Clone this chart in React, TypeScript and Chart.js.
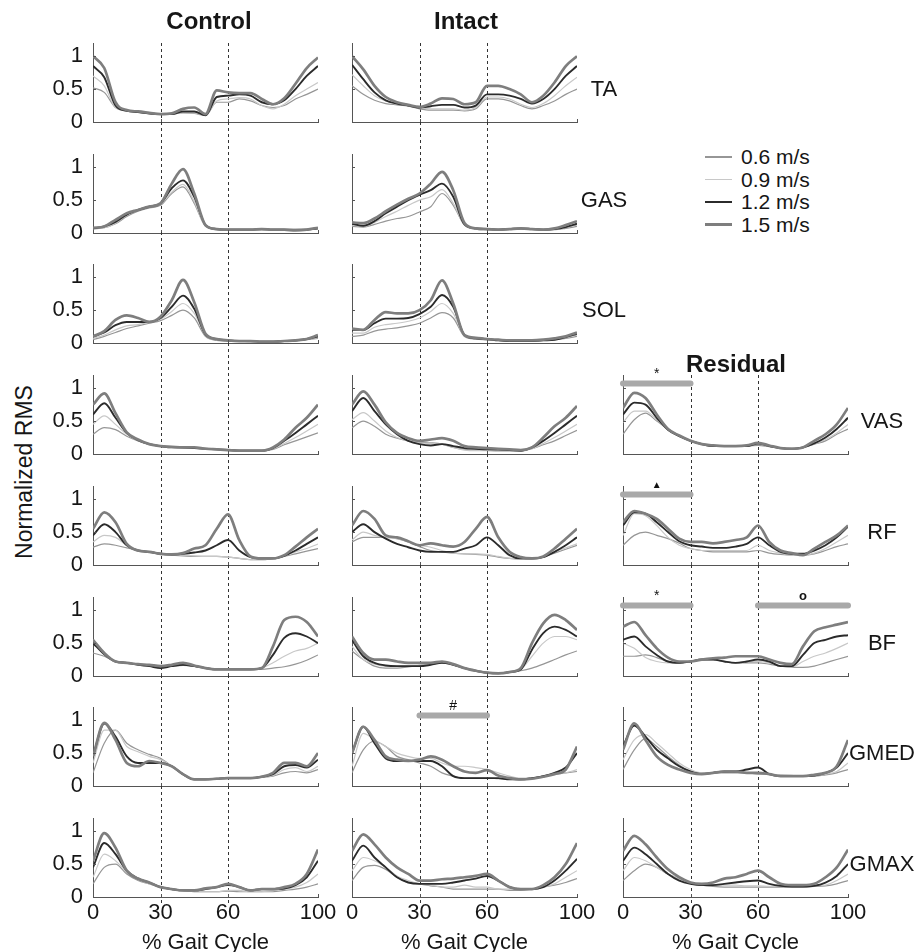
import React, { useEffect, useRef } from "react";
import { Chart, registerables } from "chart.js";
Chart.register(...registerables);

const FONT = '"Liberation Sans", Arial, Helvetica, sans-serif';
const TEXT = "#161616";
const AXIS = "#555555";

// ---------- data ----------
const gaitPct = [0, 5, 10, 15, 20, 25, 30, 35, 40, 45, 50, 55, 60, 65, 70, 75, 80, 85, 90, 95, 100];
const xTicks = [0, 30, 60, 100];
const yTicks = [0, 0.5, 1];
const phaseLines = [30, 60];
const speedLabels = ["0.6 m/s", "0.9 m/s", "1.2 m/s", "1.5 m/s"];
const speedColors = ["#969696", "#c8c8c8", "#2b2b2b", "#7e7e7e"];
const speedWidths = [1.2, 1.2, 1.9, 2.7];
const groups = ["Control", "Intact", "Residual"];
const muscles = ["TA", "GAS", "SOL", "VAS", "RF", "BF", "GMED", "GMAX"];

// TA
const ta_control_06 = [0.52, 0.45, 0.22, 0.17, 0.15, 0.13, 0.12, 0.12, 0.14, 0.13, 0.1, 0.3, 0.3, 0.35, 0.32, 0.25, 0.22, 0.25, 0.35, 0.42, 0.5];
const ta_control_09 = [0.7, 0.55, 0.22, 0.17, 0.15, 0.13, 0.12, 0.12, 0.14, 0.14, 0.1, 0.32, 0.35, 0.37, 0.35, 0.25, 0.2, 0.27, 0.4, 0.5, 0.6];
const ta_control_12 = [0.85, 0.68, 0.25, 0.17, 0.15, 0.13, 0.12, 0.12, 0.16, 0.16, 0.1, 0.38, 0.4, 0.42, 0.4, 0.3, 0.27, 0.33, 0.5, 0.7, 0.85];
const ta_control_15 = [1.0, 0.82, 0.3, 0.18, 0.16, 0.14, 0.12, 0.13, 0.2, 0.22, 0.12, 0.48, 0.45, 0.44, 0.44, 0.35, 0.27, 0.36, 0.58, 0.82, 0.98];
const ta_intact_06 = [0.55, 0.42, 0.33, 0.28, 0.26, 0.24, 0.2, 0.18, 0.18, 0.18, 0.17, 0.2, 0.35, 0.35, 0.32, 0.25, 0.2, 0.25, 0.32, 0.42, 0.5];
const ta_intact_09 = [0.72, 0.55, 0.4, 0.32, 0.28, 0.25, 0.22, 0.2, 0.2, 0.2, 0.18, 0.22, 0.38, 0.38, 0.35, 0.27, 0.22, 0.28, 0.4, 0.55, 0.68];
const ta_intact_12 = [0.87, 0.65, 0.45, 0.33, 0.28, 0.25, 0.22, 0.24, 0.26, 0.26, 0.22, 0.25, 0.42, 0.42, 0.4, 0.35, 0.28, 0.35, 0.5, 0.7, 0.85];
const ta_intact_15 = [1.0, 0.8, 0.55, 0.38, 0.3, 0.26, 0.23, 0.28, 0.36, 0.35, 0.27, 0.3, 0.55, 0.55, 0.5, 0.42, 0.3, 0.4, 0.6, 0.85, 1.0];

// GAS
const gas_control_06 = [0.06, 0.08, 0.14, 0.25, 0.33, 0.38, 0.42, 0.6, 0.7, 0.45, 0.1, 0.05, 0.04, 0.05, 0.05, 0.05, 0.05, 0.05, 0.04, 0.05, 0.06];
const gas_control_09 = [0.07, 0.08, 0.15, 0.27, 0.35, 0.4, 0.44, 0.62, 0.74, 0.48, 0.1, 0.05, 0.05, 0.05, 0.05, 0.06, 0.05, 0.05, 0.04, 0.05, 0.06];
const gas_control_12 = [0.07, 0.1, 0.17, 0.28, 0.35, 0.4, 0.45, 0.68, 0.8, 0.55, 0.12, 0.06, 0.05, 0.05, 0.05, 0.06, 0.05, 0.05, 0.05, 0.05, 0.07];
const gas_control_15 = [0.08, 0.1, 0.2, 0.3, 0.35, 0.4, 0.45, 0.75, 0.97, 0.6, 0.12, 0.06, 0.05, 0.05, 0.05, 0.06, 0.05, 0.05, 0.04, 0.05, 0.08];
const gas_intact_06 = [0.1, 0.09, 0.13, 0.18, 0.22, 0.25, 0.32, 0.4, 0.6, 0.42, 0.12, 0.06, 0.05, 0.05, 0.06, 0.06, 0.06, 0.05, 0.05, 0.07, 0.1];
const gas_intact_09 = [0.12, 0.1, 0.16, 0.25, 0.33, 0.42, 0.5, 0.55, 0.66, 0.45, 0.12, 0.06, 0.05, 0.05, 0.06, 0.06, 0.06, 0.05, 0.05, 0.08, 0.12];
const gas_intact_12 = [0.14, 0.11, 0.18, 0.3, 0.4, 0.5, 0.58, 0.65, 0.75, 0.55, 0.13, 0.07, 0.06, 0.05, 0.06, 0.07, 0.06, 0.05, 0.06, 0.09, 0.14];
const gas_intact_15 = [0.16, 0.15, 0.22, 0.33, 0.43, 0.52, 0.6, 0.75, 0.93, 0.65, 0.15, 0.07, 0.06, 0.05, 0.06, 0.07, 0.06, 0.05, 0.07, 0.12, 0.18];

// SOL
const sol_control_06 = [0.05, 0.1, 0.16, 0.22, 0.26, 0.3, 0.34, 0.42, 0.5, 0.38, 0.1, 0.04, 0.03, 0.03, 0.02, 0.02, 0.02, 0.03, 0.03, 0.05, 0.07];
const sol_control_09 = [0.07, 0.12, 0.2, 0.26, 0.28, 0.32, 0.36, 0.48, 0.6, 0.45, 0.12, 0.05, 0.04, 0.03, 0.03, 0.02, 0.02, 0.03, 0.04, 0.06, 0.08];
const sol_control_12 = [0.1, 0.16, 0.27, 0.32, 0.32, 0.32, 0.38, 0.55, 0.72, 0.52, 0.13, 0.06, 0.04, 0.03, 0.03, 0.02, 0.02, 0.03, 0.04, 0.06, 0.1];
const sol_control_15 = [0.1, 0.18, 0.35, 0.42, 0.38, 0.32, 0.4, 0.65, 0.96, 0.62, 0.14, 0.06, 0.04, 0.03, 0.03, 0.02, 0.02, 0.03, 0.04, 0.06, 0.12];
const sol_intact_06 = [0.1, 0.12, 0.18, 0.21, 0.23, 0.26, 0.3, 0.38, 0.46, 0.38, 0.1, 0.06, 0.05, 0.04, 0.03, 0.03, 0.03, 0.04, 0.05, 0.07, 0.1];
const sol_intact_09 = [0.15, 0.15, 0.24, 0.28, 0.3, 0.33, 0.38, 0.48, 0.6, 0.45, 0.11, 0.07, 0.06, 0.04, 0.03, 0.03, 0.03, 0.04, 0.05, 0.08, 0.12];
const sol_intact_12 = [0.2, 0.2, 0.3, 0.37, 0.37, 0.38, 0.44, 0.55, 0.73, 0.55, 0.12, 0.07, 0.06, 0.04, 0.03, 0.03, 0.03, 0.04, 0.05, 0.09, 0.14];
const sol_intact_15 = [0.22, 0.2, 0.35, 0.47, 0.45, 0.45, 0.5, 0.65, 0.95, 0.6, 0.12, 0.08, 0.06, 0.05, 0.04, 0.04, 0.04, 0.05, 0.07, 0.1, 0.16];

// VAS
const vas_control_06 = [0.3, 0.4, 0.37, 0.27, 0.2, 0.15, 0.12, 0.1, 0.09, 0.09, 0.08, 0.07, 0.06, 0.05, 0.05, 0.05, 0.07, 0.14, 0.2, 0.26, 0.32];
const vas_control_09 = [0.45, 0.58, 0.45, 0.3, 0.2, 0.15, 0.12, 0.1, 0.09, 0.09, 0.08, 0.07, 0.06, 0.05, 0.05, 0.05, 0.08, 0.16, 0.25, 0.35, 0.45];
const vas_control_12 = [0.6, 0.77, 0.55, 0.32, 0.21, 0.15, 0.12, 0.1, 0.1, 0.09, 0.08, 0.07, 0.06, 0.05, 0.05, 0.05, 0.09, 0.2, 0.32, 0.45, 0.58];
const vas_control_15 = [0.75, 0.92, 0.62, 0.33, 0.22, 0.15, 0.12, 0.11, 0.1, 0.1, 0.08, 0.07, 0.06, 0.05, 0.05, 0.05, 0.1, 0.22, 0.4, 0.55, 0.75];
const vas_intact_06 = [0.4, 0.5, 0.42, 0.3, 0.24, 0.2, 0.18, 0.17, 0.15, 0.1, 0.07, 0.06, 0.06, 0.05, 0.05, 0.05, 0.08, 0.14, 0.2, 0.28, 0.36];
const vas_intact_09 = [0.52, 0.63, 0.5, 0.35, 0.25, 0.2, 0.17, 0.16, 0.15, 0.1, 0.06, 0.05, 0.05, 0.04, 0.04, 0.05, 0.08, 0.16, 0.25, 0.35, 0.45];
const vas_intact_12 = [0.65, 0.85, 0.65, 0.45, 0.3, 0.2, 0.15, 0.13, 0.15, 0.12, 0.09, 0.08, 0.07, 0.07, 0.06, 0.05, 0.1, 0.2, 0.32, 0.45, 0.58];
const vas_intact_15 = [0.75, 0.95, 0.75, 0.48, 0.32, 0.24, 0.2, 0.22, 0.24, 0.2, 0.12, 0.1, 0.09, 0.08, 0.07, 0.06, 0.1, 0.25, 0.42, 0.55, 0.73];
const vas_residual_06 = [0.3, 0.52, 0.62, 0.5, 0.38, 0.28, 0.2, 0.16, 0.13, 0.12, 0.12, 0.12, 0.13, 0.11, 0.09, 0.08, 0.1, 0.15, 0.2, 0.3, 0.38];
const vas_residual_09 = [0.48, 0.65, 0.65, 0.52, 0.36, 0.27, 0.2, 0.15, 0.13, 0.12, 0.12, 0.13, 0.15, 0.12, 0.09, 0.08, 0.1, 0.15, 0.22, 0.32, 0.45];
const vas_residual_12 = [0.6, 0.78, 0.75, 0.55, 0.37, 0.27, 0.2, 0.15, 0.12, 0.12, 0.12, 0.12, 0.16, 0.12, 0.09, 0.08, 0.1, 0.16, 0.25, 0.38, 0.55];
const vas_residual_15 = [0.7, 0.93, 0.85, 0.6, 0.38, 0.28, 0.2, 0.15, 0.13, 0.12, 0.12, 0.13, 0.17, 0.13, 0.09, 0.08, 0.1, 0.2, 0.3, 0.45, 0.7];

// RF
const rf_control_06 = [0.27, 0.32, 0.3, 0.26, 0.22, 0.19, 0.17, 0.15, 0.14, 0.13, 0.13, 0.13, 0.12, 0.1, 0.08, 0.08, 0.1, 0.13, 0.17, 0.21, 0.25];
const rf_control_09 = [0.35, 0.45, 0.42, 0.3, 0.22, 0.2, 0.18, 0.16, 0.15, 0.14, 0.13, 0.13, 0.12, 0.1, 0.08, 0.08, 0.1, 0.14, 0.2, 0.25, 0.32];
const rf_control_12 = [0.45, 0.62, 0.5, 0.3, 0.22, 0.2, 0.17, 0.16, 0.17, 0.19, 0.22, 0.3, 0.38, 0.22, 0.12, 0.1, 0.1, 0.14, 0.22, 0.32, 0.42];
const rf_control_15 = [0.55, 0.8, 0.65, 0.32, 0.22, 0.2, 0.17, 0.16, 0.18, 0.25, 0.3, 0.55, 0.77, 0.38, 0.13, 0.1, 0.1, 0.15, 0.28, 0.42, 0.55];
const rf_intact_06 = [0.35, 0.42, 0.42, 0.42, 0.4, 0.35, 0.28, 0.22, 0.2, 0.18, 0.17, 0.16, 0.15, 0.12, 0.1, 0.09, 0.09, 0.12, 0.18, 0.24, 0.3];
const rf_intact_09 = [0.38, 0.5, 0.45, 0.42, 0.4, 0.35, 0.3, 0.27, 0.22, 0.18, 0.17, 0.17, 0.16, 0.13, 0.1, 0.09, 0.09, 0.12, 0.2, 0.26, 0.32];
const rf_intact_12 = [0.5, 0.62, 0.5, 0.4, 0.32, 0.27, 0.22, 0.2, 0.2, 0.2, 0.25, 0.3, 0.42, 0.3, 0.15, 0.1, 0.1, 0.12, 0.2, 0.3, 0.42];
const rf_intact_15 = [0.6, 0.82, 0.7, 0.45, 0.42, 0.36, 0.3, 0.33, 0.3, 0.28, 0.35, 0.55, 0.73, 0.42, 0.2, 0.12, 0.1, 0.13, 0.25, 0.4, 0.55];
const rf_residual_06 = [0.3, 0.45, 0.5, 0.45, 0.4, 0.33, 0.25, 0.22, 0.2, 0.2, 0.2, 0.2, 0.22, 0.18, 0.16, 0.15, 0.15, 0.17, 0.22, 0.28, 0.32];
const rf_residual_09 = [0.45, 0.78, 0.75, 0.6, 0.42, 0.3, 0.25, 0.22, 0.22, 0.22, 0.22, 0.22, 0.3, 0.22, 0.18, 0.15, 0.15, 0.18, 0.25, 0.35, 0.45];
const rf_residual_12 = [0.6, 0.8, 0.78, 0.65, 0.5, 0.36, 0.3, 0.28, 0.26, 0.26, 0.28, 0.32, 0.42, 0.3, 0.2, 0.17, 0.17, 0.22, 0.3, 0.42, 0.58];
const rf_residual_15 = [0.65, 0.82, 0.78, 0.7, 0.55, 0.4, 0.35, 0.35, 0.33, 0.35, 0.38, 0.42, 0.6, 0.35, 0.22, 0.18, 0.15, 0.25, 0.35, 0.45, 0.6];

// BF
const bf_control_06 = [0.35, 0.3, 0.22, 0.2, 0.18, 0.16, 0.14, 0.15, 0.16, 0.15, 0.12, 0.1, 0.1, 0.1, 0.1, 0.1, 0.12, 0.14, 0.18, 0.24, 0.32];
const bf_control_09 = [0.55, 0.35, 0.22, 0.2, 0.18, 0.17, 0.15, 0.15, 0.18, 0.15, 0.12, 0.1, 0.1, 0.1, 0.1, 0.12, 0.2, 0.3, 0.38, 0.42, 0.5];
const bf_control_12 = [0.5, 0.33, 0.22, 0.2, 0.17, 0.15, 0.12, 0.15, 0.17, 0.15, 0.12, 0.1, 0.1, 0.1, 0.1, 0.12, 0.32, 0.58, 0.65, 0.6, 0.5];
const bf_control_15 = [0.55, 0.35, 0.22, 0.2, 0.18, 0.17, 0.15, 0.17, 0.2, 0.16, 0.12, 0.1, 0.1, 0.1, 0.1, 0.12, 0.45, 0.85, 0.9, 0.82, 0.6];
const bf_intact_06 = [0.38, 0.25, 0.15, 0.12, 0.12, 0.14, 0.16, 0.18, 0.2, 0.17, 0.12, 0.08, 0.05, 0.04, 0.06, 0.08, 0.12, 0.18, 0.25, 0.32, 0.38];
const bf_intact_09 = [0.45, 0.25, 0.18, 0.15, 0.15, 0.15, 0.16, 0.18, 0.2, 0.17, 0.12, 0.08, 0.05, 0.04, 0.06, 0.1, 0.3, 0.5, 0.6, 0.6, 0.55];
const bf_intact_12 = [0.55, 0.3, 0.2, 0.16, 0.15, 0.15, 0.15, 0.17, 0.2, 0.17, 0.12, 0.08, 0.05, 0.04, 0.06, 0.1, 0.4, 0.65, 0.75, 0.7, 0.6];
const bf_intact_15 = [0.6, 0.35, 0.25, 0.25, 0.22, 0.2, 0.2, 0.2, 0.22, 0.18, 0.12, 0.08, 0.05, 0.04, 0.06, 0.12, 0.5, 0.8, 0.93, 0.85, 0.7];
const bf_residual_06 = [0.3, 0.3, 0.32, 0.28, 0.22, 0.2, 0.22, 0.25, 0.25, 0.22, 0.2, 0.2, 0.2, 0.18, 0.15, 0.13, 0.13, 0.15, 0.2, 0.25, 0.3];
const bf_residual_09 = [0.5, 0.42, 0.28, 0.22, 0.2, 0.2, 0.22, 0.25, 0.25, 0.22, 0.2, 0.22, 0.22, 0.2, 0.15, 0.14, 0.22, 0.3, 0.35, 0.42, 0.5];
const bf_residual_12 = [0.55, 0.6, 0.45, 0.32, 0.22, 0.2, 0.22, 0.25, 0.25, 0.22, 0.2, 0.22, 0.25, 0.22, 0.15, 0.15, 0.32, 0.5, 0.55, 0.6, 0.62];
const bf_residual_15 = [0.75, 0.82, 0.62, 0.42, 0.28, 0.22, 0.22, 0.25, 0.27, 0.28, 0.3, 0.3, 0.3, 0.25, 0.2, 0.18, 0.45, 0.68, 0.74, 0.78, 0.82];

// GMED
const gmed_control_06 = [0.2, 0.65, 0.85, 0.65, 0.55, 0.48, 0.42, 0.3, 0.17, 0.1, 0.1, 0.11, 0.12, 0.12, 0.12, 0.13, 0.15, 0.2, 0.22, 0.2, 0.25];
const gmed_control_09 = [0.35, 0.85, 0.85, 0.6, 0.52, 0.45, 0.4, 0.3, 0.17, 0.1, 0.1, 0.11, 0.12, 0.12, 0.12, 0.13, 0.16, 0.25, 0.28, 0.22, 0.3];
const gmed_control_12 = [0.45, 0.95, 0.75, 0.45, 0.35, 0.35, 0.35, 0.3, 0.18, 0.1, 0.1, 0.11, 0.12, 0.12, 0.12, 0.14, 0.18, 0.3, 0.32, 0.28, 0.4];
const gmed_control_15 = [0.45, 0.96, 0.7, 0.35, 0.3, 0.38, 0.35, 0.3, 0.18, 0.1, 0.1, 0.11, 0.12, 0.12, 0.12, 0.14, 0.2, 0.35, 0.35, 0.3, 0.5];
const gmed_intact_06 = [0.2, 0.55, 0.68, 0.6, 0.45, 0.4, 0.35, 0.3, 0.2, 0.15, 0.12, 0.12, 0.12, 0.11, 0.1, 0.1, 0.12, 0.15, 0.18, 0.2, 0.22];
const gmed_intact_09 = [0.3, 0.8, 0.7, 0.6, 0.5, 0.45, 0.42, 0.42, 0.35, 0.3, 0.3, 0.28, 0.25, 0.2, 0.15, 0.12, 0.12, 0.15, 0.18, 0.2, 0.25];
const gmed_intact_12 = [0.5, 0.9, 0.65, 0.42, 0.38, 0.38, 0.38, 0.38, 0.3, 0.15, 0.12, 0.12, 0.12, 0.12, 0.1, 0.1, 0.12, 0.15, 0.2, 0.28, 0.5];
const gmed_intact_15 = [0.5, 0.9, 0.7, 0.45, 0.4, 0.38, 0.4, 0.45, 0.4, 0.3, 0.22, 0.2, 0.24, 0.16, 0.12, 0.1, 0.11, 0.14, 0.18, 0.25, 0.6];
const gmed_residual_06 = [0.25, 0.55, 0.72, 0.6, 0.45, 0.32, 0.22, 0.2, 0.2, 0.2, 0.2, 0.2, 0.18, 0.18, 0.16, 0.15, 0.15, 0.15, 0.17, 0.2, 0.25];
const gmed_residual_09 = [0.4, 0.7, 0.78, 0.65, 0.5, 0.35, 0.25, 0.2, 0.2, 0.22, 0.2, 0.2, 0.2, 0.18, 0.17, 0.16, 0.15, 0.16, 0.18, 0.22, 0.35];
const gmed_residual_12 = [0.6, 0.92, 0.75, 0.55, 0.42, 0.3, 0.22, 0.18, 0.2, 0.22, 0.22, 0.25, 0.28, 0.18, 0.15, 0.15, 0.15, 0.16, 0.2, 0.28, 0.5];
const gmed_residual_15 = [0.55, 0.95, 0.7, 0.45, 0.32, 0.25, 0.2, 0.18, 0.2, 0.22, 0.22, 0.2, 0.2, 0.18, 0.15, 0.15, 0.15, 0.17, 0.2, 0.3, 0.7];

// GMAX
const gmax_control_06 = [0.2, 0.45, 0.5, 0.35, 0.25, 0.2, 0.15, 0.12, 0.1, 0.08, 0.08, 0.08, 0.09, 0.08, 0.08, 0.08, 0.08, 0.1, 0.12, 0.15, 0.2];
const gmax_control_09 = [0.3, 0.65, 0.55, 0.38, 0.27, 0.2, 0.15, 0.12, 0.1, 0.08, 0.08, 0.08, 0.1, 0.1, 0.08, 0.08, 0.1, 0.12, 0.15, 0.22, 0.35];
const gmax_control_12 = [0.45, 0.82, 0.65, 0.4, 0.28, 0.22, 0.15, 0.12, 0.1, 0.1, 0.12, 0.15, 0.18, 0.15, 0.1, 0.12, 0.12, 0.13, 0.18, 0.3, 0.55];
const gmax_control_15 = [0.55, 0.97, 0.75, 0.4, 0.28, 0.22, 0.15, 0.12, 0.1, 0.1, 0.13, 0.15, 0.2, 0.15, 0.1, 0.12, 0.12, 0.15, 0.2, 0.35, 0.72];
const gmax_intact_06 = [0.25, 0.45, 0.48, 0.42, 0.3, 0.22, 0.2, 0.17, 0.15, 0.12, 0.12, 0.12, 0.12, 0.12, 0.1, 0.1, 0.12, 0.15, 0.18, 0.22, 0.28];
const gmax_intact_09 = [0.4, 0.6, 0.55, 0.45, 0.32, 0.25, 0.2, 0.18, 0.15, 0.15, 0.18, 0.15, 0.15, 0.12, 0.12, 0.12, 0.12, 0.15, 0.2, 0.3, 0.4];
const gmax_intact_12 = [0.55, 0.78, 0.6, 0.45, 0.3, 0.22, 0.2, 0.2, 0.2, 0.22, 0.25, 0.28, 0.32, 0.25, 0.15, 0.12, 0.12, 0.15, 0.25, 0.4, 0.58];
const gmax_intact_15 = [0.7, 0.95, 0.8, 0.6, 0.45, 0.35, 0.25, 0.25, 0.27, 0.28, 0.3, 0.32, 0.35, 0.25, 0.15, 0.12, 0.12, 0.18, 0.3, 0.5, 0.82];
const gmax_residual_06 = [0.25, 0.4, 0.5, 0.45, 0.35, 0.28, 0.22, 0.18, 0.16, 0.15, 0.15, 0.15, 0.15, 0.15, 0.15, 0.15, 0.15, 0.16, 0.17, 0.2, 0.25];
const gmax_residual_09 = [0.4, 0.6, 0.55, 0.45, 0.35, 0.28, 0.22, 0.18, 0.18, 0.18, 0.18, 0.17, 0.17, 0.16, 0.16, 0.16, 0.16, 0.17, 0.18, 0.25, 0.35];
const gmax_residual_12 = [0.55, 0.75, 0.65, 0.5, 0.35, 0.25, 0.2, 0.18, 0.18, 0.2, 0.22, 0.24, 0.25, 0.2, 0.17, 0.16, 0.16, 0.17, 0.22, 0.32, 0.5];
const gmax_residual_15 = [0.7, 0.93, 0.8, 0.6, 0.42, 0.3, 0.22, 0.2, 0.22, 0.28, 0.3, 0.35, 0.4, 0.3, 0.2, 0.18, 0.18, 0.2, 0.3, 0.45, 0.72];

// significance bars: [from %, to %, mark]
const vasResidualSig = [{ from: 0, to: 30, mark: "*" }];
const rfResidualSig = [{ from: 0, to: 30, mark: "▲" }];
const bfResidualSig = [{ from: 0, to: 30, mark: "*" }, { from: 60, to: 100, mark: "o" }];
const gmedIntactSig = [{ from: 30, to: 60, mark: "#" }];
const SIG_Y = 1.07;
const SIG_MARK_Y = 1.21;

type Sig = { from: number; to: number; mark: string };
type PanelSpec = { row: number; col: number; series: number[][]; sig?: Sig[] };

const panels: PanelSpec[] = [
  { row: 0, col: 0, series: [ta_control_06, ta_control_09, ta_control_12, ta_control_15] },
  { row: 0, col: 1, series: [ta_intact_06, ta_intact_09, ta_intact_12, ta_intact_15] },
  { row: 1, col: 0, series: [gas_control_06, gas_control_09, gas_control_12, gas_control_15] },
  { row: 1, col: 1, series: [gas_intact_06, gas_intact_09, gas_intact_12, gas_intact_15] },
  { row: 2, col: 0, series: [sol_control_06, sol_control_09, sol_control_12, sol_control_15] },
  { row: 2, col: 1, series: [sol_intact_06, sol_intact_09, sol_intact_12, sol_intact_15] },
  { row: 3, col: 0, series: [vas_control_06, vas_control_09, vas_control_12, vas_control_15] },
  { row: 3, col: 1, series: [vas_intact_06, vas_intact_09, vas_intact_12, vas_intact_15] },
  { row: 3, col: 2, series: [vas_residual_06, vas_residual_09, vas_residual_12, vas_residual_15], sig: vasResidualSig },
  { row: 4, col: 0, series: [rf_control_06, rf_control_09, rf_control_12, rf_control_15] },
  { row: 4, col: 1, series: [rf_intact_06, rf_intact_09, rf_intact_12, rf_intact_15] },
  { row: 4, col: 2, series: [rf_residual_06, rf_residual_09, rf_residual_12, rf_residual_15], sig: rfResidualSig },
  { row: 5, col: 0, series: [bf_control_06, bf_control_09, bf_control_12, bf_control_15] },
  { row: 5, col: 1, series: [bf_intact_06, bf_intact_09, bf_intact_12, bf_intact_15] },
  { row: 5, col: 2, series: [bf_residual_06, bf_residual_09, bf_residual_12, bf_residual_15], sig: bfResidualSig },
  { row: 6, col: 0, series: [gmed_control_06, gmed_control_09, gmed_control_12, gmed_control_15] },
  { row: 6, col: 1, series: [gmed_intact_06, gmed_intact_09, gmed_intact_12, gmed_intact_15], sig: gmedIntactSig },
  { row: 6, col: 2, series: [gmed_residual_06, gmed_residual_09, gmed_residual_12, gmed_residual_15] },
  { row: 7, col: 0, series: [gmax_control_06, gmax_control_09, gmax_control_12, gmax_control_15] },
  { row: 7, col: 1, series: [gmax_intact_06, gmax_intact_09, gmax_intact_12, gmax_intact_15] },
  { row: 7, col: 2, series: [gmax_residual_06, gmax_residual_09, gmax_residual_12, gmax_residual_15] },
];

// ---------- layout ----------
const PLOT_LEFT = [93, 352, 623];
const PLOT_W = 225;
const BASELINE = [122, 233, 343, 454, 565, 676, 786, 897];
const PLOT_H = 79;
const TOP_PAD = 32;
const YW = 50;
const RP = 26;
const LABEL_X = [604, 604, 882];
const FIRST_ROW = [0, 0, 3];

function Panel({ spec }: { spec: PanelSpec }) {
  const ref = useRef<HTMLCanvasElement>(null);
  const isBottom = spec.row === 7;
  const XH = isBottom ? 60 : 16;
  const W = YW + PLOT_W + RP;
  const H = TOP_PAD + PLOT_H + XH;
  const left = PLOT_LEFT[spec.col] - YW;
  const top = BASELINE[spec.row] - PLOT_H - TOP_PAD;

  useEffect(() => {
    if (!ref.current) return;
    const isFirst = spec.row === FIRST_ROW[spec.col];
    const sig = spec.sig || [];
    const decor = {
      id: "decor",
      beforeDatasetsDraw(chart: any) {
        const { ctx, chartArea, scales } = chart;
        const x = scales.x;
        const y0 = isFirst ? chartArea.top : 0;
        const y1 = isBottom ? chartArea.bottom + 6 : chartArea.bottom;
        ctx.save();
        ctx.strokeStyle = "#333";
        ctx.lineWidth = 1;
        ctx.setLineDash([3, 3]);
        for (const v of phaseLines) {
          const px = Math.round(x.getPixelForValue(v)) + 0.5;
          ctx.beginPath();
          ctx.moveTo(px, y0);
          ctx.lineTo(px, y1);
          ctx.stroke();
        }
        ctx.restore();
      },
      afterDraw(chart: any) {
        const { ctx, chartArea, scales } = chart;
        const x = scales.x;
        const y = scales.y;
        ctx.save();
        ctx.strokeStyle = AXIS;
        ctx.lineWidth = 1;
        for (const v of xTicks) {
          const px = Math.round(x.getPixelForValue(v)) + 0.5;
          ctx.beginPath();
          ctx.moveTo(px, chartArea.bottom);
          ctx.lineTo(px, chartArea.bottom - 3);
          ctx.stroke();
        }
        for (const v of yTicks) {
          const py = Math.round(y.getPixelForValue(v)) + 0.5;
          ctx.beginPath();
          ctx.moveTo(chartArea.left, py);
          ctx.lineTo(chartArea.left + 3, py);
          ctx.stroke();
        }
        ctx.fillStyle = "#111";
        ctx.textAlign = "center";
        ctx.textBaseline = "middle";
        for (const s of sig) {
          const cx = x.getPixelForValue((s.from + s.to) / 2);
          const cy = y.getPixelForValue(SIG_MARK_Y);
          ctx.font = (s.mark === "▲" ? "10px " : s.mark === "o" ? "bold 13px " : "14px ") + FONT;
          ctx.fillText(s.mark, cx, cy);
        }
        ctx.restore();
      },
    };

    const datasets: any[] = spec.series.map((vals, i) => ({
      label: speedLabels[i],
      data: gaitPct.map((p, j) => ({ x: p, y: vals[j] })),
      borderColor: speedColors[i],
      borderWidth: speedWidths[i],
      pointRadius: 0,
      fill: false,
      cubicInterpolationMode: "monotone",
      order: 4 - i,
    }));
    for (const s of sig) {
      datasets.push({
        label: "sig",
        data: [
          { x: s.from, y: SIG_Y },
          { x: s.to, y: SIG_Y },
        ],
        borderColor: "#a9a9a9",
        borderWidth: 6,
        borderCapStyle: "round",
        pointRadius: 0,
        fill: false,
        clip: false,
        order: 10,
      });
    }

    const chart = new Chart(ref.current, {
      type: "line",
      data: { datasets },
      options: {
        animation: false,
        responsive: false,
        events: [],
        layout: { padding: { top: TOP_PAD, right: RP, left: 0, bottom: 0 } },
        plugins: { legend: { display: false }, tooltip: { enabled: false } },
        scales: {
          x: {
            type: "linear",
            min: 0,
            max: 100,
            afterBuildTicks: (s: any) => {
              s.ticks = xTicks.map((v) => ({ value: v }));
            },
            afterFit: (s: any) => {
              s.height = XH;
              s.paddingLeft = 0;
              s.paddingRight = 0;
              s.paddingTop = 0;
              s.paddingBottom = 0;
            },
            grid: { display: false, drawTicks: false },
            border: { display: true, color: AXIS, width: 1 },
            ticks: {
              display: isBottom,
              padding: 3,
              color: TEXT,
              autoSkip: false,
              maxRotation: 0,
              font: { family: FONT, size: 22 },
            },
            title: {
              display: isBottom,
              text: "% Gait Cycle",
              color: TEXT,
              padding: { top: 0, bottom: 1 },
              font: { family: FONT, size: 22 },
            },
          },
          y: {
            type: "linear",
            min: 0,
            max: 1.2,
            afterBuildTicks: (s: any) => {
              s.ticks = yTicks.map((v) => ({ value: v }));
            },
            afterFit: (s: any) => {
              s.width = YW;
              s.paddingLeft = 0;
              s.paddingRight = 0;
              s.paddingTop = 0;
              s.paddingBottom = 0;
            },
            grid: { display: false, drawTicks: false },
            border: { display: true, color: AXIS, width: 1 },
            ticks: {
              display: spec.col === 0,
              padding: 10,
              color: TEXT,
              font: { family: FONT, size: 22 },
              callback: (v: any) => String(v),
            },
          },
        },
      } as any,
      plugins: [decor],
    });
    return () => chart.destroy();
  }, []);

  return (
    <canvas
      ref={ref}
      width={W}
      height={H}
      style={{ position: "absolute", left, top, width: W, height: H }}
    />
  );
}

function Label({ x, y, text, size = 22, bold = false }: { x: number; y: number; text: string; size?: number; bold?: boolean }) {
  return (
    <div
      style={{
        position: "absolute",
        left: x,
        top: y,
        transform: "translate(-50%, -50%)",
        fontFamily: FONT,
        fontSize: size,
        fontWeight: bold ? "bold" : "normal",
        color: TEXT,
        whiteSpace: "nowrap",
        lineHeight: 1,
      }}
    >
      {text}
    </div>
  );
}

export default function App() {
  const muscleLabels = muscles.map((m, r) => ({
    text: m,
    x: r < 3 ? LABEL_X[0] : LABEL_X[2],
    y: BASELINE[r] - 33,
  }));
  const legendTop = 157;
  const legendStep = 22.5;
  return (
    <div
      style={{
        position: "absolute",
        left: 0,
        top: 0,
        width: 924,
        height: 952,
        overflow: "hidden",
        background: "#ffffff",
      }}
    >
      {panels.map((p, i) => (
        <Panel key={i} spec={p} />
      ))}
      <Label x={209} y={21} text={groups[0]} size={24} bold />
      <Label x={466} y={21} text={groups[1]} size={24} bold />
      <Label x={736} y={364} text={groups[2]} size={24} bold />
      {muscleLabels.map((m) => (
        <Label key={m.text} x={m.x} y={m.y} text={m.text} />
      ))}
      <div
        style={{
          position: "absolute",
          left: 24,
          top: 472,
          transform: "translate(-50%, -50%) rotate(-90deg)",
          fontFamily: FONT,
          fontSize: 23,
          color: TEXT,
          whiteSpace: "nowrap",
          lineHeight: 1,
        }}
      >
        Normalized RMS
      </div>
      {speedLabels.map((s, i) => (
        <div key={s} style={{ position: "absolute", left: 705, top: legendTop + i * legendStep - 11, height: 22, width: 130 }}>
          <div
            style={{
              position: "absolute",
              left: 0,
              top: 11 - speedWidths[i] / 2,
              width: 27,
              height: speedWidths[i],
              background: speedColors[i],
            }}
          />
          <div
            style={{
              position: "absolute",
              left: 36,
              top: 0,
              fontFamily: FONT,
              fontSize: 21,
              lineHeight: "22px",
              color: TEXT,
              whiteSpace: "nowrap",
            }}
          >
            {s}
          </div>
        </div>
      ))}
    </div>
  );
}
